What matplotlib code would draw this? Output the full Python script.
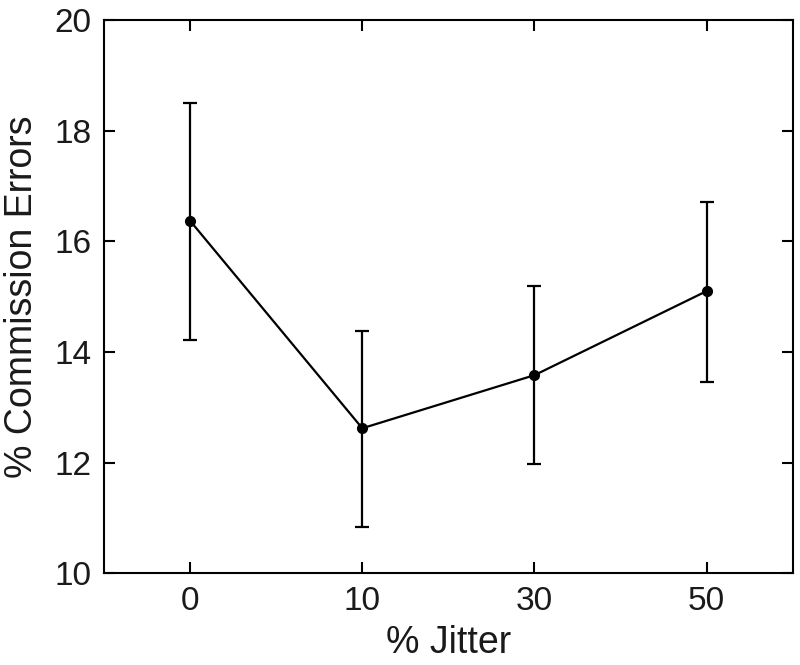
import matplotlib
matplotlib.use("Agg")
import matplotlib.pyplot as plt

# % jitter conditions and commission error means with error bar limits
jitter_labels = ["0", "10", "30", "50"]
commission = [16.37, 12.62, 13.58, 15.10]
err_low = [14.22, 10.83, 11.97, 13.45]
err_high = [18.50, 14.38, 15.19, 16.71]

plt.rcParams["font.family"] = ["Liberation Sans", "DejaVu Sans"]

fig = plt.figure(figsize=(8, 6.65), dpi=100)
ax = fig.add_axes([0.13, 0.138, 0.861, 0.832])

xpos = list(range(1, len(jitter_labels) + 1))
yerr = [[m - lo for m, lo in zip(commission, err_low)],
        [hi - m for m, hi in zip(commission, err_high)]]

ax.errorbar(xpos, commission, yerr=yerr, fmt='o-', color='black',
            ecolor='black', markersize=7, linewidth=1.6, elinewidth=1.6,
            capsize=5, capthick=1.6)

ax.set_xlim(0.5, 4.5)
ax.set_ylim(10, 20)
ax.set_xticks(xpos)
ax.set_xticklabels(jitter_labels)
ax.set_yticks([10, 12, 14, 16, 18, 20])

ax.tick_params(direction='in', length=8, width=1.5, labelsize=24,
               labelcolor='#1a1a1a', top=True, right=True, pad=9)
for s in ax.spines.values():
    s.set_linewidth(1.5)

ax.set_xlabel("% Jitter", fontsize=27, color='#1a1a1a', labelpad=6)
ax.set_ylabel("% Commission Errors", fontsize=27, color='#1a1a1a', labelpad=10)

fig.savefig("out.png", dpi=100)
